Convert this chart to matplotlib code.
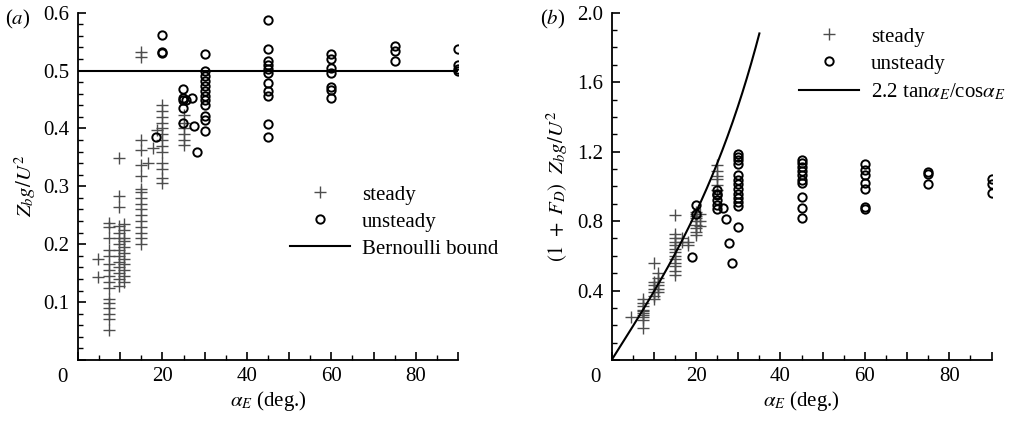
import numpy as np
import matplotlib
matplotlib.use("Agg")
import matplotlib.pyplot as plt
from matplotlib.ticker import MultipleLocator, FuncFormatter

plt.rcParams['font.family'] = ['Liberation Serif', 'DejaVu Serif']
plt.rcParams['mathtext.fontset'] = 'stix'
plt.rcParams['font.size'] = 15

# (alpha_E, [values]) columns of measurements
a_steady = [
    (4.7, [0.175, 0.144]),
    (7.4, [0.237, 0.23, 0.21, 0.19, 0.18, 0.165, 0.155, 0.145, 0.135, 0.125,
           0.105, 0.098, 0.09, 0.08, 0.07, 0.052]),
    (9.8, [0.349, 0.283, 0.265, 0.231, 0.22, 0.21, 0.2, 0.19, 0.18, 0.17,
           0.16, 0.15, 0.14, 0.127]),
    (10.8, [0.235, 0.225, 0.21, 0.205, 0.195, 0.185, 0.175, 0.165, 0.155,
            0.145, 0.135]),
    (15.0, [0.532, 0.524, 0.38, 0.363, 0.337, 0.317, 0.295, 0.29, 0.28, 0.27,
            0.26, 0.25, 0.24, 0.23, 0.22, 0.21, 0.2]),
    (16.6, [0.34]),
    (17.7, [0.367]),
    (18.7, [0.398]),
    (20.0, [0.441, 0.43, 0.42, 0.41, 0.40, 0.39, 0.38, 0.37, 0.36, 0.34,
            0.33, 0.315, 0.306]),
    (25.0, [0.424, 0.41, 0.40, 0.39, 0.38, 0.372]),
]
a_unsteady = [
    (18.5, [0.386]),
    (20.0, [0.562, 0.532, 0.530]),
    (24.8, [0.468, 0.453, 0.45, 0.435, 0.41]),
    (25.6, [0.45]),
    (27.0, [0.453]),
    (27.5, [0.404]),
    (28.1, [0.359]),
    (30.0, [0.528, 0.5, 0.49, 0.482, 0.474, 0.464, 0.456, 0.45, 0.44, 0.422,
            0.415, 0.396]),
    (45.0, [0.588, 0.538, 0.516, 0.509, 0.503, 0.496, 0.479, 0.464, 0.456,
            0.408, 0.386]),
    (60.0, [0.528, 0.52, 0.505, 0.495, 0.472, 0.467, 0.452]),
    (75.0, [0.542, 0.533, 0.516]),
    (90.0, [0.538, 0.509, 0.503, 0.499]),
]
b_steady = [
    (4.7, [0.249]),
    (7.5, [0.349, 0.33, 0.31, 0.29, 0.28, 0.27, 0.26, 0.25, 0.23, 0.186]),
    (10.0, [0.557, 0.45, 0.43, 0.41, 0.39, 0.37, 0.35]),
    (11.0, [0.50, 0.47, 0.45, 0.43, 0.41, 0.39]),
    (15.0, [0.833, 0.728, 0.70, 0.68, 0.66, 0.64, 0.62, 0.60, 0.58, 0.56,
            0.54, 0.51, 0.489]),
    (16.6, [0.70, 0.68]),
    (18.1, [0.68, 0.661]),
    (20.0, [0.852, 0.84, 0.83, 0.82, 0.80, 0.78, 0.76, 0.737, 0.718]),
    (21.0, [0.84, 0.80, 0.77]),
    (25.0, [1.12, 1.09, 1.06, 1.04, 1.01, 0.98]),
]
b_unsteady = [
    (19.0, [0.594]),
    (20.0, [0.891, 0.843]),
    (25.0, [0.977, 0.958, 0.948, 0.92, 0.891, 0.872]),
    (26.3, [0.875]),
    (27.2, [0.814]),
    (27.9, [0.674]),
    (28.4, [0.556]),
    (30.0, [1.188, 1.168, 1.149, 1.13, 1.063, 1.038, 1.011, 0.987, 0.958,
            0.935, 0.91, 0.885, 0.764]),
    (45.0, [1.153, 1.134, 1.111, 1.088, 1.063, 1.038, 1.019, 0.939, 0.877,
            0.816]),
    (60.0, [1.13, 1.096, 1.063, 1.019, 0.987, 0.881, 0.872]),
    (75.0, [1.082, 1.069, 1.011]),
    (90.0, [1.044, 1.015, 0.962]),
]
bernoulli = 0.5
coef = 2.2
alpha_max_curve = 35.0


def flatten(cols):
    xs, ys = [], []
    for a, vals in cols:
        xs += [a] * len(vals)
        ys += vals
    return np.array(xs), np.array(ys)


def style_axes(ax, ymax, ymajor, yminor):
    ax.set_xlim(0, 90)
    ax.set_ylim(0, ymax)
    for s in ('top', 'right'):
        ax.spines[s].set_visible(False)
    for s in ('left', 'bottom'):
        ax.spines[s].set_linewidth(1.3)
    ax.xaxis.set_major_locator(MultipleLocator(10))
    ax.xaxis.set_minor_locator(MultipleLocator(5))
    ax.yaxis.set_major_locator(MultipleLocator(ymajor))
    ax.yaxis.set_minor_locator(MultipleLocator(yminor))
    ax.xaxis.set_major_formatter(FuncFormatter(
        lambda v, p: f'{v:.0f}' if round(v) % 20 == 0 and v > 0 else ''))
    ax.yaxis.set_major_formatter(FuncFormatter(
        lambda v, p: '' if abs(v) < 1e-9 else f'{v:.1f}'))
    ax.tick_params(which='major', direction='in', length=6, width=1.2,
                   pad=5, labelsize=15)
    ax.tick_params(which='minor', direction='in', length=3.5, width=1.0)
    ax.tick_params(axis='y', pad=6)
    ax.set_xlabel(r'$\alpha_E$ (deg.)', labelpad=2)
    # "0" sits left of the origin, clear of the vertical axis
    ax.annotate('0', xy=(0, 0), xycoords=('data', 'axes fraction'),
                xytext=(-11.5, -5.5), textcoords='offset points',
                ha='center', va='top', fontsize=15)


fig = plt.figure(figsize=(10.12, 4.23), dpi=100)
ax1 = fig.add_axes([0.077, 0.149, 0.3756, 0.821])
ax2 = fig.add_axes([0.6044, 0.149, 0.3754, 0.821])

plus_kw = dict(marker='+', ls='none', color='0.3', ms=8, mew=1.0)
circ_kw = dict(marker='o', ls='none', mfc='none', mec='black', ms=6, mew=1.4)
leg_kw = dict(bbox_transform=fig.transFigure, loc='upper left',
              frameon=False, borderpad=0, borderaxespad=0, handlelength=2.88,
              handletextpad=0.58, labelspacing=0.36, numpoints=1, fontsize=15)

# panel (a)
x, y = flatten(a_steady)
ax1.plot(x, y, label='steady', **plus_kw)
x, y = flatten(a_unsteady)
ax1.plot(x, y, label='unsteady', **circ_kw)
ax1.plot([0, 90], [bernoulli, bernoulli], color='black', lw=1.5,
         label='Bernoulli bound')
style_axes(ax1, 0.6, 0.1, 0.02)
ax1.set_ylabel(r'$Z_b g/U^2$', labelpad=4)
ax1.legend(bbox_to_anchor=(290 / 1012, 1 - 185 / 423), **leg_kw)
fig.text(5 / 1012, 1 - 24 / 423, r'($a$)', fontsize=15)

# panel (b)
x, y = flatten(b_steady)
ax2.plot(x, y, label='steady', **plus_kw)
x, y = flatten(b_unsteady)
ax2.plot(x, y, label='unsteady', **circ_kw)
ac = np.linspace(0, alpha_max_curve, 200)
ar = np.radians(ac)
ax2.plot(ac, coef * np.tan(ar) / np.cos(ar), color='black', lw=1.5,
         label=r'2.2 tan$\alpha_E$/cos$\alpha_E$')
style_axes(ax2, 2.0, 0.4, 0.1)
ax2.set_ylabel(r'$(1\ +\ F_D)\ \ Z_b g/U^2$', labelpad=5)
ax2.legend(bbox_to_anchor=(799 / 1012, 1 - 27 / 423), **leg_kw)
fig.text(540 / 1012, 1 - 24 / 423, r'($b$)', fontsize=15)

fig.savefig('out.png', dpi=100)
